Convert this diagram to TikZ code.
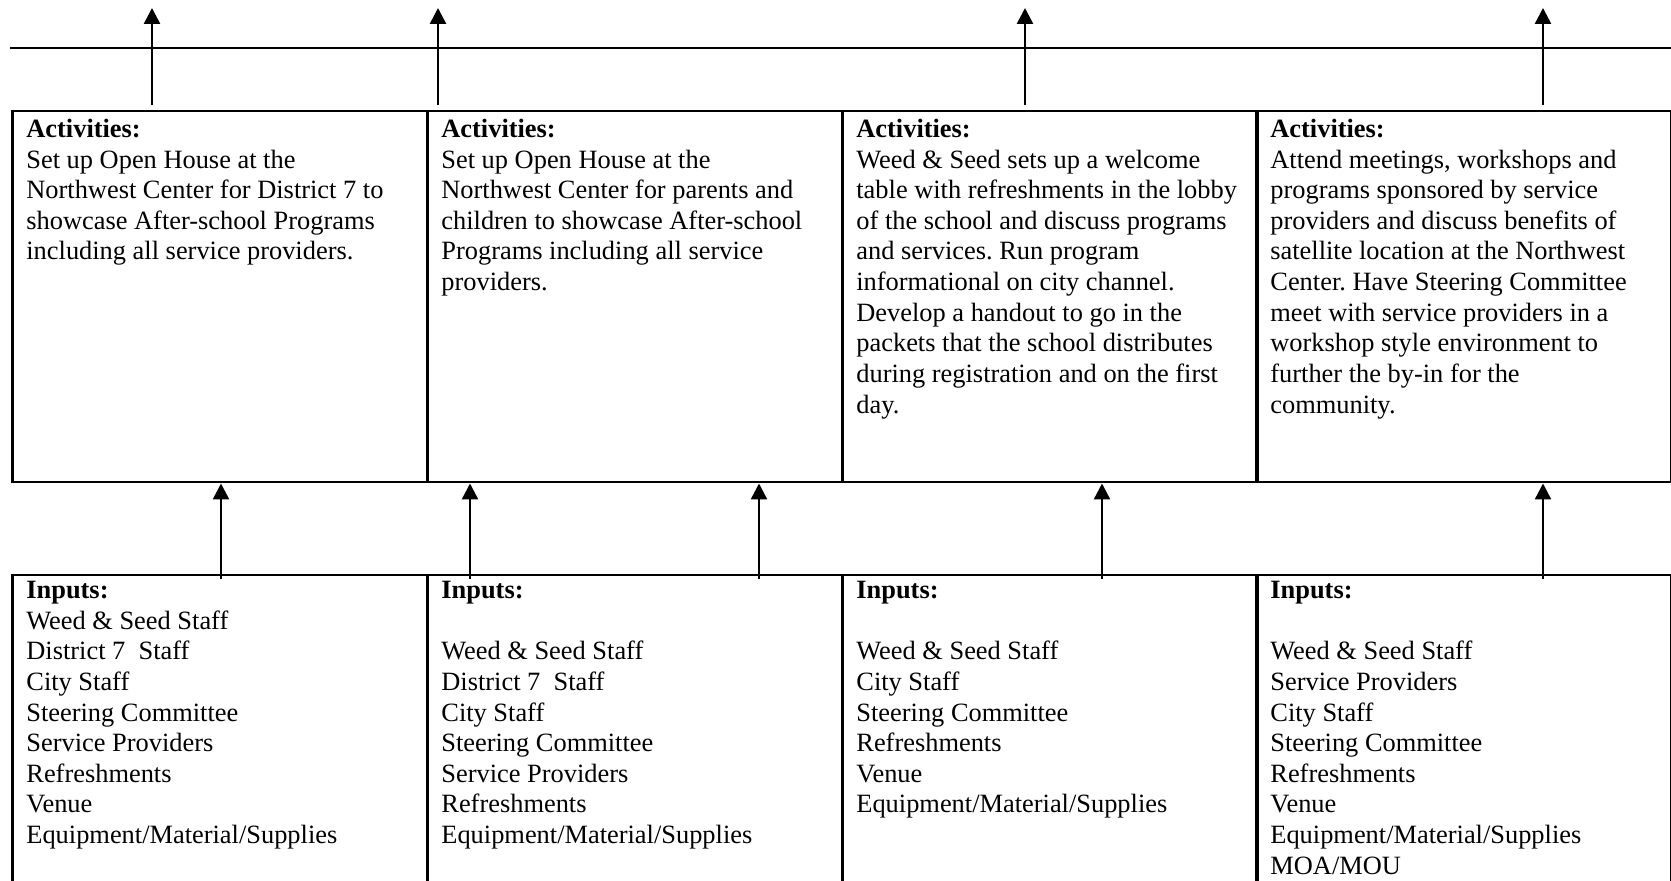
\documentclass[tikz,border=0pt]{standalone}
\usepackage{fontspec}
\setmainfont{Liberation Serif}
\usetikzlibrary{arrows.meta}
\frenchspacing
\begin{document}
\begin{tikzpicture}[x=0.5pt,y=-0.5pt,
  cell/.style={draw,line width=1.25pt,rectangle,inner sep=0pt,anchor=north west,minimum width=207.5pt},
  actcell/.style={cell,minimum height=185.5pt},
  incell/.style={cell,minimum height=170pt},
  txt/.style={anchor=north west,inner sep=0pt,align=left,font=\fontsize{13.2}{15.33}\selectfont},
  arr/.style={line width=1.25pt,-{Triangle[length=8pt,width=8pt]}},
  hline/.style={line width=1.25pt}]
\clip (0,0) rectangle (1671,881);
\fill[white] (0,0) rectangle (1671,881);
% top line
\coordinate (L0) at (10,48);
\coordinate (L1) at (1671,48);
\draw[hline] (L0) -- (L1);
% activity cells
\node[actcell] (a1) at (11,110) {};
\node[actcell] (a2) at (426,110) {};
\node[actcell] (a3) at (841,110) {};
\node[actcell] (a4) at (1255,110) {};
% input cells
\node[incell] (i1) at (11,574) {};
\node[incell] (i2) at (426,574) {};
\node[incell] (i3) at (841,574) {};
\node[incell] (i4) at (1255,574) {};
% activity texts
\node[txt] (ta1) at (26,115.5) {\strut\textbf{Activities:}\\Set up Open House at the\\Northwest Center for District 7 to\\showcase After-school Programs\\including all service providers.};
\node[txt] (ta2) at (441,115.5) {\strut\textbf{Activities:}\\Set up Open House at the\\Northwest Center for parents and\\children to showcase After-school\\Programs including all service\\providers.};
\node[txt] (ta3) at (856,115.5) {\strut\textbf{Activities:}\\Weed \& Seed sets up a welcome\\table with refreshments in the lobby\\of the school and discuss programs\\and services. Run program\\informational on city channel.\\Develop a handout to go in the\\packets that the school distributes\\during registration and on the first\\day.};
\node[txt] (ta4) at (1270,115.5) {\strut\textbf{Activities:}\\Attend meetings, workshops and\\programs sponsored by service\\providers and discuss benefits of\\satellite location at the Northwest\\Center. Have Steering Committee\\meet with service providers in a\\workshop style environment to\\further the by-in for the\\community.};
% input texts
\node[txt] (ti1) at (26,576.5) {\strut\textbf{Inputs:}\\Weed \& Seed Staff\\District~7\ \ Staff\\City Staff\\Steering Committee\\Service Providers\\Refreshments\\Venue\\Equipment/Material/Supplies};
\node[txt] (ti2) at (441,576.5) {\strut\textbf{Inputs:}\\[15.33pt]Weed \& Seed Staff\\District~7\ \ Staff\\City Staff\\Steering Committee\\Service Providers\\Refreshments\\Equipment/Material/Supplies};
\node[txt] (ti3) at (856,576.5) {\strut\textbf{Inputs:}\\[15.33pt]Weed \& Seed Staff\\City Staff\\Steering Committee\\Refreshments\\Venue\\Equipment/Material/Supplies};
\node[txt] (ti4) at (1270,576.5) {\strut\textbf{Inputs:}\\[15.33pt]Weed \& Seed Staff\\Service Providers\\City Staff\\Steering Committee\\Refreshments\\Venue\\Equipment/Material/Supplies\\MOA/MOU};
% top arrow ends
\coordinate (o1) at (152,8);
\coordinate (o2) at (438,8);
\coordinate (o3) at (1025,8);
\coordinate (o4) at (1543,8);
\draw[arr] (o1 |- a1.north) ++(0,-5) -- (o1);
\draw[arr] (o2 |- a2.north) ++(0,-5) -- (o2);
\draw[arr] (o3 |- a3.north) ++(0,-5) -- (o3);
\draw[arr] (o4 |- a4.north) ++(0,-5) -- (o4);
% input to activity arrows
\draw[arr] (221,0 |- i1.north) ++(0,5) -- (221,0 |- a1.south);
\draw[arr] (470,0 |- i2.north) ++(0,5) -- (470,0 |- a2.south);
\draw[arr] (759,0 |- i2.north) ++(0,5) -- (759,0 |- a2.south);
\draw[arr] (1102,0 |- i3.north) ++(0,5) -- (1102,0 |- a3.south);
\draw[arr] (1543,0 |- i4.north) ++(0,5) -- (1543,0 |- a4.south);
\end{tikzpicture}
\end{document}
